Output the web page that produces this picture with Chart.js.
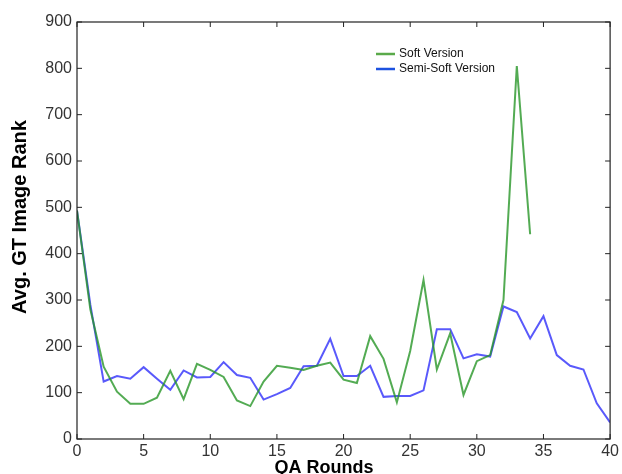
<!DOCTYPE html>
<html>
<head>
<meta charset="utf-8">
<script src="https://cdn.jsdelivr.net/npm/chart.js@4"></script>
<style>
html, body { margin: 0; padding: 0; background: #fff; }
</style>
</head>
<body>
<canvas id="chart" width="622" height="474"></canvas>
<script>
const softRounds = [0,1,2,3,4,5,6,7,8,9,10,11,12,13,14,15,16,17,18,19,20,21,22,23,24,25,26,27,28,29,30,31,32,33,34];
const softRank = [493,280,156,102,76,76,89,147,86,162,149,134,83,71,124,158,154,149,158,165,128,121,222,173,79,190,343,150,228,95,168,181,300,805,442];

const semiRounds = [0,1,2,3,4,5,6,7,8,9,10,11,12,13,14,15,16,17,18,19,20,21,22,23,24,25,26,27,28,29,30,31,32,33,34,35,36,37,38,39,40];
const semiRank = [493,290,124,136,130,155,130,106,148,133,134,166,138,132,85,97,110,157,158,216,136,136,158,91,93,93,105,237,237,174,183,178,286,274,217,265,181,158,150,77,36];

const xTicks = [0,5,10,15,20,25,30,35,40];
const yTicks = [0,100,200,300,400,500,600,700,800,900];

const seriesNames = ["Soft Version", "Semi-Soft Version"];
const xTitle = "QA Rounds";
const yTitle = "Avg. GT Image Rank";
const lineColors = ["rgba(40,150,40,0.8)", "rgba(60,60,250,0.85)"];
const legendColors = ["#5aaa4a", "#1d52e0"];

function toPoints(xs, ys){
  return xs.map((x, i) => ({x: x, y: ys[i]}));
}

const fam = "Liberation Sans, Arial, sans-serif";
const tickFont = {family: fam, size: 16};

// box frame + inward ticks, axis titles and legend, matplotlib style
const framePlugin = {
  id: "frame",
  afterDraw(chart){
    const ctx = chart.ctx;
    const a = chart.chartArea;
    const xs = chart.scales.x, ys = chart.scales.y;
    ctx.save();
    ctx.strokeStyle = "#222";
    ctx.lineWidth = 1.2;
    ctx.strokeRect(a.left, a.top, a.right - a.left, a.bottom - a.top);
    ctx.lineWidth = 1;
    xTicks.forEach(v => {
      const px = xs.getPixelForValue(v);
      ctx.beginPath();
      ctx.moveTo(px, a.bottom); ctx.lineTo(px, a.bottom - 5);
      ctx.moveTo(px, a.top); ctx.lineTo(px, a.top + 5);
      ctx.stroke();
    });
    yTicks.forEach(v => {
      const py = ys.getPixelForValue(v);
      ctx.beginPath();
      ctx.moveTo(a.left, py); ctx.lineTo(a.left + 5, py);
      ctx.moveTo(a.right, py); ctx.lineTo(a.right - 5, py);
      ctx.stroke();
    });

    // axis titles
    ctx.fillStyle = "#000";
    ctx.font = "bold 18px " + fam;
    ctx.textAlign = "center";
    ctx.textBaseline = "alphabetic";
    ctx.fillText(xTitle, 324, 473);
    ctx.save();
    ctx.translate(26, 217);
    ctx.rotate(-Math.PI / 2);
    ctx.font = "bold 20px " + fam;
    ctx.fillText(yTitle, 0, 0);
    ctx.restore();

    // legend
    ctx.font = "12px " + fam;
    ctx.textAlign = "left";
    ctx.textBaseline = "middle";
    chart.data.datasets.forEach((ds, i) => {
      const y = 54 + i * 15;
      ctx.strokeStyle = legendColors[i];
      ctx.lineWidth = 2.5;
      ctx.beginPath();
      ctx.moveTo(376, y); ctx.lineTo(395, y);
      ctx.stroke();
      ctx.fillStyle = "#111";
      ctx.fillText(ds.label, 399, y);
    });
    ctx.restore();
  }
};

new Chart(document.getElementById("chart"), {
  type: "line",
  data: {
    datasets: [
      {label: seriesNames[0], data: toPoints(softRounds, softRank), borderColor: lineColors[0], borderWidth: 2, pointRadius: 0, tension: 0, fill: false},
      {label: seriesNames[1], data: toPoints(semiRounds, semiRank), borderColor: lineColors[1], borderWidth: 2, pointRadius: 0, tension: 0, fill: false}
    ]
  },
  options: {
    responsive: false,
    animation: false,
    layout: {padding: {top: 22, right: 7, left: 0, bottom: 0}},
    plugins: {legend: {display: false}, tooltip: {enabled: false}},
    scales: {
      x: {
        type: "linear", min: 0, max: 40,
        afterBuildTicks: s => { s.ticks = xTicks.map(v => ({value: v})); },
        afterFit: s => { s.height = 35; },
        grid: {display: false, drawTicks: false},
        border: {display: false},
        ticks: {color: "#333", font: tickFont, padding: 3, maxRotation: 0}
      },
      y: {
        min: 0, max: 900,
        afterBuildTicks: s => { s.ticks = yTicks.map(v => ({value: v})); },
        afterFit: s => { s.width = 77; },
        grid: {display: false, drawTicks: false},
        border: {display: false},
        ticks: {color: "#333", font: tickFont, padding: 5}
      }
    }
  },
  plugins: [framePlugin]
});
</script>
</body>
</html>
